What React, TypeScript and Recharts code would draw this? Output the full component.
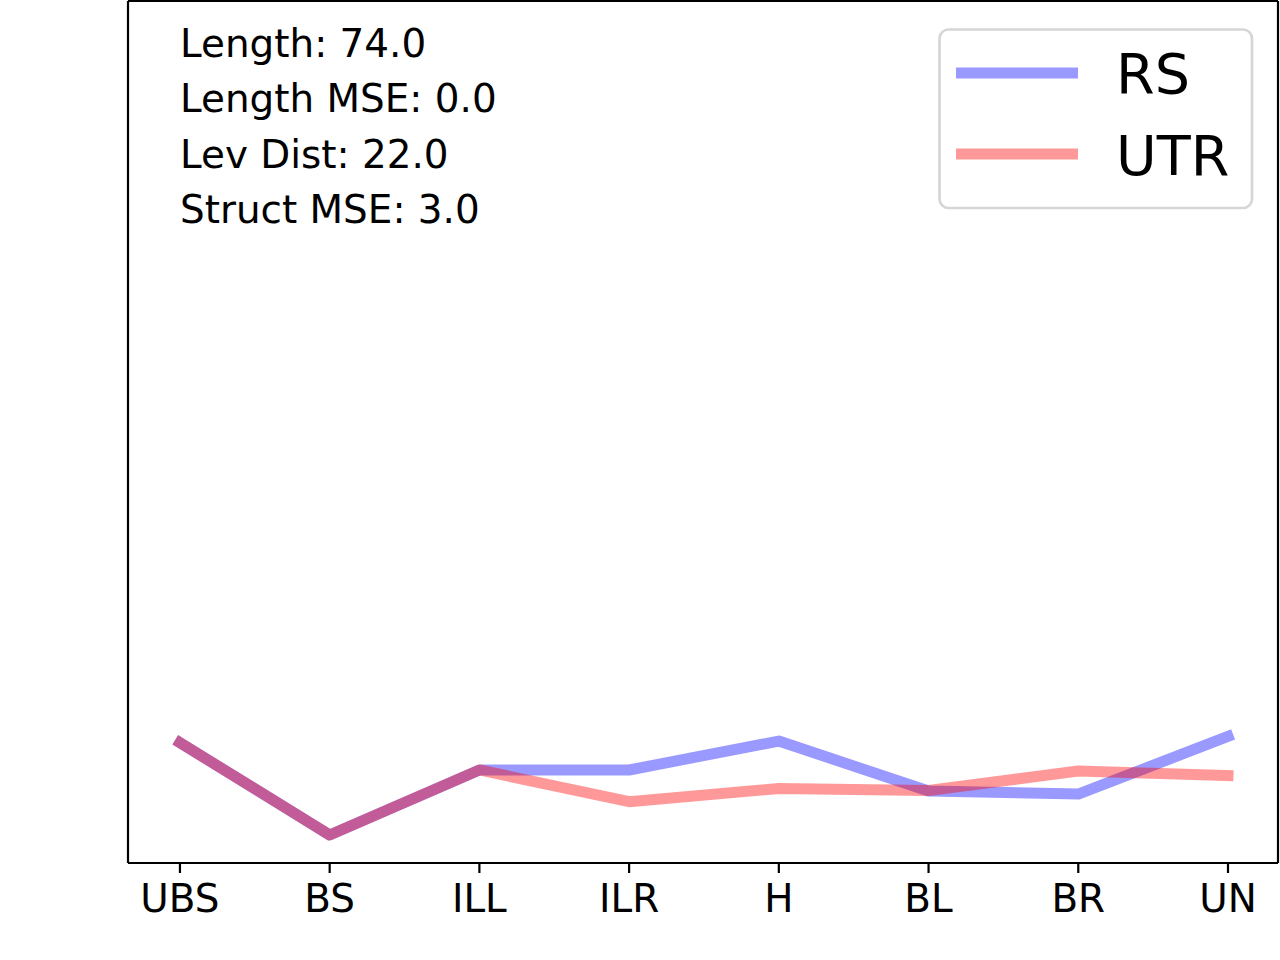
import React from 'react';
import { LineChart, Line, XAxis, YAxis, ReferenceLine } from 'recharts';

const categories = ['UBS', 'BS', 'ILL', 'ILR', 'H', 'BL', 'BR', 'UN'];
const rsValues = [13.96, 3.25, 10.79, 10.79, 14.15, 8.35, 8.0, 14.68];
const utrValues = [13.96, 3.25, 10.79, 7.11, 8.64, 8.41, 10.67, 10.15];
const statLines = ['Length: 74.0', 'Length MSE: 0.0', 'Lev Dist: 22.0', 'Struct MSE: 3.0'];
const seriesNames = ['RS', 'UTR'];
const seriesColors = ['#0000ff', '#ff0000'];
const tickIndexes = categories.map((_, i) => i);
const xDomain = [-0.347, 7.334];

const data = categories.map((c, i) => ({ x: i, name: c, RS: rsValues[i], UTR: utrValues[i] }));

const FONT = "'DejaVu Sans', sans-serif";

export default function App() {
  return (
    <div style={{ position: 'absolute', left: 0, top: 0, width: 1280, height: 960, background: '#fff' }}>
      <LineChart width={1280} height={960} data={data} margin={{ top: 1, right: 2, left: 0, bottom: 0 }}>
        <XAxis
          dataKey="x"
          type="number"
          domain={xDomain}
          ticks={tickIndexes}
          interval={0}
          allowDataOverflow
          tickFormatter={(v: number) => categories[v]}
          height={97}
          axisLine={{ stroke: '#000', strokeWidth: 2.2 }}
          tickLine={{ stroke: '#000', strokeWidth: 2.2 }}
          tickSize={10}
          tickMargin={11}
          tick={{ fill: '#000', fontSize: 38.9, fontFamily: FONT }}
        />
        <YAxis
          type="number"
          domain={[0, 100]}
          allowDataOverflow
          width={128}
          tick={false}
          tickLine={false}
          axisLine={{ stroke: '#000', strokeWidth: 2.2 }}
        />
        <ReferenceLine y={100} stroke="#000" strokeWidth={2.2} />
        <ReferenceLine x={xDomain[1]} stroke="#000" strokeWidth={2.2} />
        <Line
          type="linear"
          dataKey="RS"
          name={seriesNames[0]}
          stroke={seriesColors[0]}
          strokeOpacity={0.4}
          strokeWidth={11}
          strokeLinecap="square"
          strokeLinejoin="round"
          dot={false}
          activeDot={false}
          isAnimationActive={false}
        />
        <Line
          type="linear"
          dataKey="UTR"
          name={seriesNames[1]}
          stroke={seriesColors[1]}
          strokeOpacity={0.4}
          strokeWidth={11}
          strokeLinecap="square"
          strokeLinejoin="round"
          dot={false}
          activeDot={false}
          isAnimationActive={false}
        />
      </LineChart>
      <svg
        width={1280}
        height={960}
        style={{ position: 'absolute', left: 0, top: 0, pointerEvents: 'none' }}
      >
        {statLines.map((t, i) => (
          <text key={t} x={180} y={57 + i * 55.3} fontSize={38.9} fontFamily={FONT} fill="#000">
            {t}
          </text>
        ))}
        <rect x={939.5} y={29.5} width={312.5} height={178.5} rx={9} ry={9} fill="#fff" fillOpacity={0.8} stroke="#d6d6d6" strokeWidth={2.7} />
        {seriesNames.map((n, i) => (
          <g key={n}>
            <line
              x1={956}
              x2={1078}
              y1={73 + i * 81}
              y2={73 + i * 81}
              stroke={seriesColors[i]}
              strokeOpacity={0.4}
              strokeWidth={11}
            />
            <text x={1116} y={93 + i * 81.5} fontSize={55.6} fontFamily={FONT} fill="#000">
              {n}
            </text>
          </g>
        ))}
      </svg>
    </div>
  );
}
